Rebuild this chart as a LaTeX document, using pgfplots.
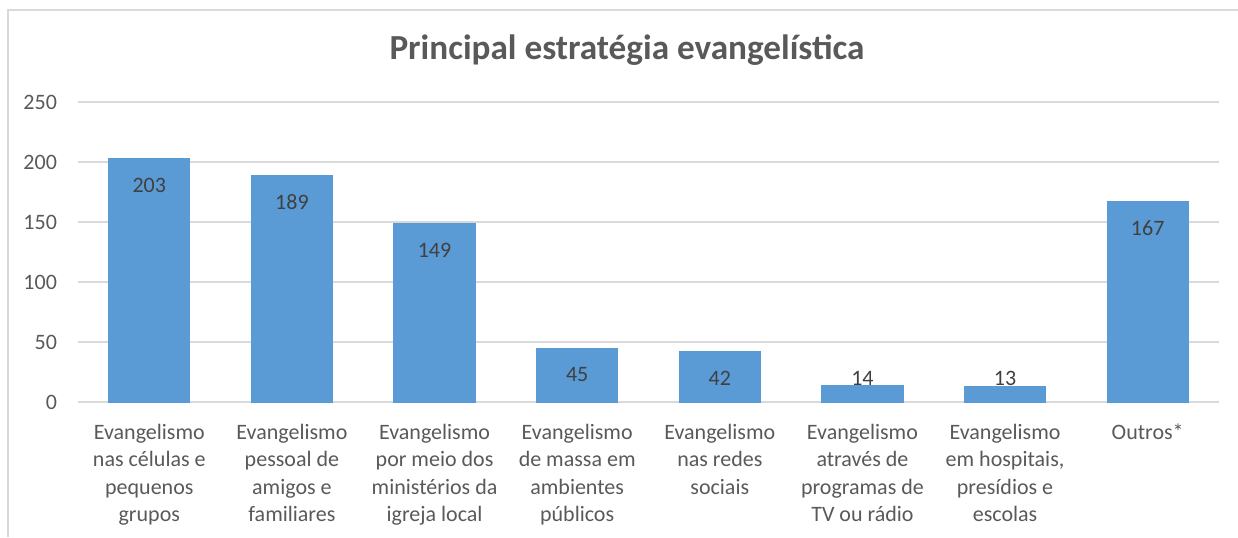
\documentclass[border=0pt]{standalone}
\usepackage{pgfplots}
\pgfplotsset{compat=1.18}
\usepackage{fontspec}
\setmainfont{Carlito}
\definecolor{barblue}{HTML}{5B9BD5}
\definecolor{gridgray}{HTML}{D9D9D9}
\definecolor{txtgray}{HTML}{595959}
\definecolor{lblgray}{HTML}{404040}
\begin{document}
\begin{tikzpicture}
\path[use as bounding box] (0pt,0pt) rectangle (619pt,268.5pt);
\draw[gridgray, line width=0.6pt] (4pt,0pt) -- (4pt,263.5pt) -- (619pt,263.5pt);
\node[font=\fontsize{17.6}{21}\selectfont\bfseries, text=txtgray] at (313.5pt,243.5pt) {Principal estratégia evangelística};
\begin{axis}[
  at={(39pt,67.5pt)}, anchor=south west,
  scale only axis, width=570.5pt, height=150pt,
  xmin=-0.5, xmax=7.5, ymin=0, ymax=250,
  ytick={0,50,100,150,200,250},
  xtick={0,...,7},
  xticklabels={{Evangelismo\\nas células e\\pequenos\\grupos},
               {Evangelismo\\pessoal de\\amigos e\\familiares},
               {Evangelismo\\por meio dos\\ministérios da\\igreja local},
               {Evangelismo\\de massa em\\ambientes\\públicos},
               {Evangelismo\\nas redes\\sociais},
               {Evangelismo\\através de\\programas de\\TV ou rádio},
               {Evangelismo\\em hospitais,\\presídios e\\escolas},
               {Outros*}},
  axis line style={draw=none},
  major tick length=0pt,
  ymajorgrids, grid style={gridgray, line width=0.9pt},
  tick label style={font=\fontsize{11}{13.7}\selectfont, text=txtgray},
  /pgf/number format/assume math mode=true,
  xticklabel style={align=center, anchor=north, yshift=-7.5pt},
  yticklabel style={anchor=east, xshift=-7pt},
  clip=false,
]
\addplot[ybar, bar width=0.57, fill=barblue, draw=barblue, line width=0pt, bar shift=0pt]
  coordinates {(0,203) (1,189) (2,149) (3,45) (4,42) (5,14) (6,13) (7,167)};
\addplot[draw=none, mark=none, nodes near coords, point meta=explicit symbolic,
  every node near coord/.style={anchor=center, font=\fontsize{11}{13.7}\selectfont, text=lblgray}]
  coordinates {(0,180.5)[203] (1,166.5)[189] (2,126.5)[149] (3,22.5)[45] (4,20)[42] (5,20)[14] (6,20)[13] (7,144.5)[167]};
\end{axis}
\end{tikzpicture}
\end{document}
